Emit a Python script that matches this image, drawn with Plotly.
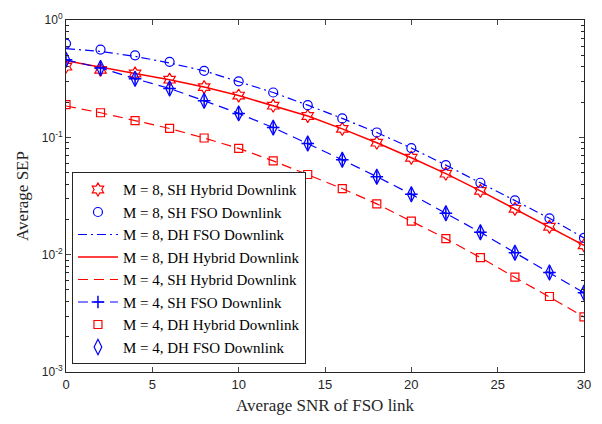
import plotly.graph_objects as go

snr = [0, 2, 4, 6, 8, 10, 12, 14, 16, 18, 20, 22, 24, 26, 28, 30]

# M = 8
sh_hybrid_m8 = [0.40, 0.376, 0.35, 0.31, 0.268, 0.227, 0.186, 0.152, 0.118, 0.090, 0.067, 0.049, 0.035, 0.0246, 0.0173, 0.012]
sh_fso_m8 = [0.63, 0.56, 0.50, 0.44, 0.369, 0.30, 0.241, 0.188, 0.145, 0.110, 0.081, 0.058, 0.041, 0.029, 0.0204, 0.0139]
dh_fso_m8 = [0.57, 0.54, 0.49, 0.43, 0.369, 0.30, 0.241, 0.188, 0.145, 0.110, 0.081, 0.058, 0.041, 0.029, 0.0204, 0.0139]
dh_hybrid_m8 = [0.45, 0.395, 0.35, 0.31, 0.268, 0.227, 0.186, 0.152, 0.118, 0.090, 0.067, 0.049, 0.035, 0.0246, 0.0173, 0.012]

# M = 4
sh_hybrid_m4 = [0.185, 0.162, 0.139, 0.119, 0.0987, 0.0805, 0.063, 0.0482, 0.0366, 0.0271, 0.0193, 0.0137, 0.00944, 0.00643, 0.0044, 0.00295]
sh_fso_m4 = [0.458, 0.39, 0.316, 0.261, 0.205, 0.160, 0.121, 0.0886, 0.0643, 0.0462, 0.0327, 0.0225, 0.0155, 0.0104, 0.00704, 0.00473]
dh_hybrid_m4 = [0.19, 0.162, 0.139, 0.119, 0.0987, 0.0805, 0.063, 0.0482, 0.0366, 0.0271, 0.0193, 0.0137, 0.00944, 0.00643, 0.0044, 0.00295]
dh_fso_m4 = [0.458, 0.39, 0.316, 0.261, 0.205, 0.160, 0.121, 0.0886, 0.0643, 0.0462, 0.0327, 0.0225, 0.0155, 0.0104, 0.00704, 0.00473]

names = [
    "M = 8, SH Hybrid Downlink",
    "M = 8, SH FSO Downlink",
    "M = 8, DH FSO Downlink",
    "M = 8, DH Hybrid Downlink",
    "M = 4, SH Hybrid Downlink",
    "M = 4, SH FSO Downlink",
    "M = 4, DH Hybrid Downlink",
    "M = 4, DH FSO Downlink",
]

xtick_vals = [0, 5, 10, 15, 20, 25, 30]
ytick_vals = [1e-3, 1e-2, 1e-1, 1]
ytick_text = ["10<sup>-3</sup>", "10<sup>-2</sup>", "10<sup>-1</sup>", "10<sup>0</sup>"]

RED = "#ff0000"
BLUE = "#0000ff"

fig = go.Figure()
fig.add_trace(go.Scatter(x=snr, y=sh_hybrid_m8, name=names[0], mode="markers",
                         marker=dict(symbol="hexagram-open", size=10, color=RED, line=dict(width=1.2, color=RED))))
fig.add_trace(go.Scatter(x=snr, y=sh_fso_m8, name=names[1], mode="markers",
                         marker=dict(symbol="circle-open", size=9, color=BLUE, line=dict(width=1.2, color=BLUE))))
fig.add_trace(go.Scatter(x=snr, y=dh_fso_m8, name=names[2], mode="lines",
                         line=dict(color=BLUE, width=1.2, dash="9px,4px,2px,4px")))
fig.add_trace(go.Scatter(x=snr, y=dh_hybrid_m8, name=names[3], mode="lines",
                         line=dict(color=RED, width=1.5)))
fig.add_trace(go.Scatter(x=snr, y=sh_hybrid_m4, name=names[4], mode="lines",
                         line=dict(color=RED, width=1.2, dash="10px,6px")))
fig.add_trace(go.Scatter(x=snr, y=sh_fso_m4, name=names[5], mode="lines+markers",
                         line=dict(color=BLUE, width=1.2, dash="10px,6px"),
                         marker=dict(symbol="cross-thin-open", size=9, color=BLUE, line=dict(width=1.5, color=BLUE))))
fig.add_trace(go.Scatter(x=snr, y=dh_hybrid_m4, name=names[6], mode="markers",
                         marker=dict(symbol="square-open", size=8, color=RED, line=dict(width=1.2, color=RED))))
fig.add_trace(go.Scatter(x=snr, y=dh_fso_m4, name=names[7], mode="markers",
                         marker=dict(symbol="diamond-tall-open", size=11, color=BLUE, line=dict(width=1.2, color=BLUE))))

axcol = "#262626"
fig.update_layout(
    width=602, height=424,
    margin=dict(l=66, r=16, t=11, b=52),
    paper_bgcolor="white", plot_bgcolor="white",
    showlegend=True,
    legend=dict(x=0.0115, y=0.022, xanchor="left", yanchor="bottom",
                bgcolor="white", bordercolor="#262626", borderwidth=1,
                font=dict(family="Liberation Serif", size=15, color="#000000"),
                itemwidth=40, tracegroupgap=0),
    font=dict(family="Liberation Sans", color=axcol),
)
fig.update_xaxes(
    range=[0, 30], tickvals=xtick_vals, ticks="inside", ticklen=5,
    showline=True, linecolor=axcol, linewidth=1, mirror="ticks",
    showgrid=False, zeroline=False,
    tickfont=dict(family="Liberation Sans", size=13, color=axcol),
    title=dict(text="Average SNR of FSO link", font=dict(family="Liberation Serif", size=17, color=axcol), standoff=8),
)
fig.update_yaxes(
    type="log", range=[-3, 0], tickvals=ytick_vals, ticktext=ytick_text,
    ticks="inside", ticklen=5,
    showline=True, linecolor=axcol, linewidth=1, mirror="ticks",
    showgrid=False, zeroline=False,
    minor=dict(ticks="inside", ticklen=3, dtick="D1", tickcolor=axcol, showgrid=False),
    tickfont=dict(family="Liberation Sans", size=12, color=axcol),
    title=dict(text="Average SEP", font=dict(family="Liberation Serif", size=17, color=axcol), standoff=8),
)

fig.write_html("out.html")
